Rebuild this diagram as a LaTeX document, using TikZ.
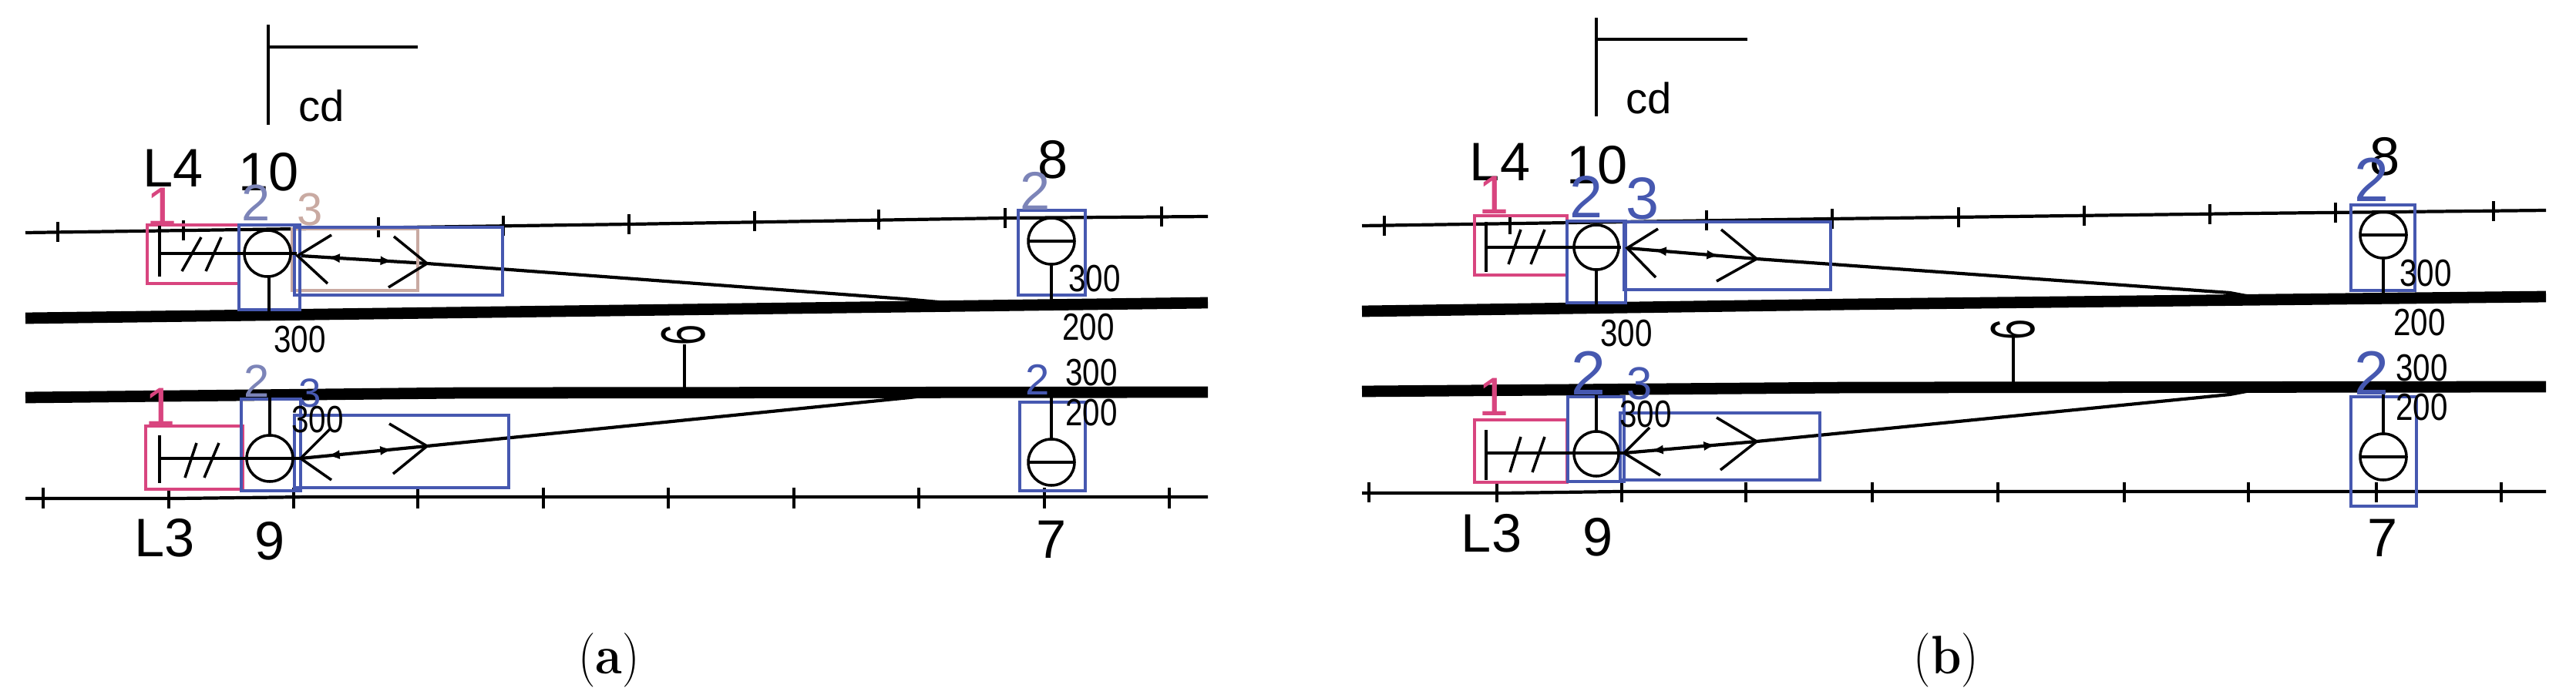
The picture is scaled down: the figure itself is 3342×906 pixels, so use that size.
\documentclass[tikz,border=0pt]{standalone}
\usepackage{fontspec}
\setsansfont{Liberation Sans}
\usepackage{xcolor}
\usepackage{tikz}
\usetikzlibrary{decorations.markings}
\definecolor{boxred}{HTML}{D8457F}
\definecolor{boxblue}{HTML}{4658B0}
\definecolor{boxtan}{HTML}{C9AAA2}
\definecolor{tagmix}{HTML}{7C84B8}
\begin{document}
\begin{tikzpicture}[x=0.01cm,y=-0.01cm,
    rail/.style={line width=1.2pt},
    heavyrail/.style={line width=4.2pt},
    sym/.style={line width=1pt},
    redbox/.style={boxred,line width=0.9pt},
    bluebox/.style={boxblue,line width=0.9pt},
    tag/.style={font=\sffamily\fontsize{20}{20}\selectfont,inner sep=0pt},
    dimtag/.style={font=\sffamily\fontsize{14}{14}\selectfont,inner sep=0pt,xscale=.82},
    sixtag/.style={font=\sffamily\fontsize{23}{23}\selectfont,inner sep=0pt,rotate=90,xscale=.6},
    captag/.style={font=\fontsize{20}{20}\selectfont,inner sep=0pt,xscale=.9},
    branch/.style={rail,postaction={decorate},decoration={markings,
        mark=at position 10pt with {\arrowreversed[scale=.7]{latex}},
        mark=at position 34pt with {\arrow[scale=.7]{latex}}}}]
    \useasboundingbox (0,0) rectangle (3342,906);

    % left drawing
    \draw[sym] (348,32) -- (348,162);
    \draw[sym] (348,61) -- (542,61);
    \draw[rail] (33,302) -- (816,291) -- (1304,283) -- (1567,281);
    \draw[rail] (33,647) -- (230,647) -- (400,645) -- (1567,645);
    \draw[heavyrail] (33,413) -- (1567,393);
    \draw[heavyrail] (33,516) -- (600,510) -- (1567,509);
    \foreach \x/\y in {75/301,238/299,491/295,653/293,816/291,979/287,1140/285,1304/283,1507/281}
        \draw[rail] (\x,\y-13) -- (\x,\y+13);
    \foreach \x in {56,219,381,542,705,867,1030,1192,1355,1517}
        \draw[rail] (\x,633) -- (\x,660);
    \draw[branch] (390,332) -- (554,342) -- (1173,388) -- (1250,395);
    \draw[branch] (390,595) -- (554,579) -- (1180,516) -- (1240,509);
    \draw[boxtan,line width=0.9pt] (379,297) rectangle (542,377);
    \draw[redbox] (191,292) rectangle (310,368);
    \draw[bluebox] (310,292) rectangle (389,402);
    \draw[bluebox] (382,295) rectangle (652,383);
    \draw[redbox] (189,553) rectangle (315,635);
    \draw[bluebox] (313,518) rectangle (390,637);
    \draw[bluebox] (382,539) rectangle (660,633);
    \draw[bluebox] (1321,273) rectangle (1408,383);
    \draw[bluebox] (1323,522) rectangle (1408,637);

    \draw[sym] (207,293) -- (207,359);
    \draw[sym] (207,329) -- (385,329);
    \draw[sym] (236,352) -- (261,308);
    \draw[sym] (267,352) -- (287,308);
    \draw[sym] (347,329) circle (30);
    \draw[sym] (349,358) -- (349,405);
    \draw[sym] (430,305) -- (386,332) -- (425,368);
    \draw[sym] (511,307) -- (554,342) -- (504,373);

    \draw[sym] (207,565) -- (207,627);
    \draw[sym] (207,595) -- (390,595);
    \draw[sym] (240,620) -- (255,575);
    \draw[sym] (265,620) -- (284,575);
    \draw[sym] (350,595) circle (30);
    \draw[sym] (350,516) -- (350,565);
    \draw[sym] (428,557) -- (390,595) -- (430,623);
    \draw[sym] (505,550) -- (554,579) -- (510,615);

    \draw[sym] (1364,313) circle (30);
    \draw[sym] (1334,313) -- (1394,313);
    \draw[sym] (1364,343) -- (1364,400);
    \draw[sym] (1364,600) circle (30);
    \draw[sym] (1334,600) -- (1394,600);
    \draw[sym] (1364,509) -- (1364,570);
    \draw[sym] (888,447) -- (888,505);

    \draw (225,218) node[tag] (lfourA) {L4};
    \draw (349,223) node[tag] (tenA) {10};
    \draw (417,137) node[tag,scale=.8] (cdA) {cd};
    \draw[boxred] (210,268) node[tag] (oneupA) {1};
    \draw[tagmix] (332,263) node[tag,scale=.95] (twoupA) {2};
    \draw[boxtan] (402,272) node[tag,scale=.85] (threeupA) {3};
    \draw (214,698) node[tag] (lthreeA) {L3};
    \draw (350,702) node[tag] (nineA) {9};
    \draw[boxred] (208,528) node[tag] (onedownA) {1};
    \draw[tagmix] (333,495) node[tag,scale=.85] (twodownA) {2};
    \draw[boxblue] (402,510) node[tag,scale=.75] (threedownA) {3};
    \draw (1366,207) node[tag] (eightA) {8};
    \draw[tagmix] (1343,248) node[tag] (twoeightA) {2};
    \draw[boxblue] (1346,493) node[tag,scale=.8] (twosevenA) {2};
    \draw (1364,700) node[tag] (sevenA) {7};
    \draw (389,441) node[dimtag] (dimtopA) {300};
    \draw (412,545) node[dimtag] (dimbotA) {300};
    \draw (1420,362) node[dimtag] (dimaA) {300};
    \draw (1412,425) node[dimtag] (dimbA) {200};
    \draw (1416,484) node[dimtag] (dimcA) {300};
    \draw (1416,536) node[dimtag] (dimdA) {200};
    \draw (887,435) node[sixtag] (sixA) {6};
    \draw (790,857) node[captag] (capA) {(\textbf{a})};

    % right drawing
    \draw[sym] (2071,23) -- (2071,151);
    \draw[sym] (2071,51) -- (2267,51);
    \draw[rail] (1767,293) -- (2377,284) -- (2920,277) -- (3303,273);
    \draw[rail] (1767,640) -- (1950,640) -- (2100,638) -- (3303,638);
    \draw[heavyrail] (1767,404) -- (2400,395) -- (3303,385);
    \draw[heavyrail] (1767,508) -- (2400,503) -- (3303,502);
    \foreach \x/\y in {1796/293,1959/291,2214/286,2377/284,2541/282,2704/280,2867/278,3030/276,3235/274}
        \draw[rail] (\x,\y-13) -- (\x,\y+13);
    \foreach \x in {1776,1942,2104,2265,2429,2592,2756,2917,3083,3245}
        \draw[rail] (\x,626) -- (\x,652);
    \draw[branch] (2111,322) -- (2279,336) -- (2893,380) -- (2935,388);
    \draw[branch] (2107,588) -- (2279,573) -- (2893,512) -- (2930,505);
    \draw[redbox] (1913,280) rectangle (2033,357);
    \draw[bluebox] (2033,287) rectangle (2109,393);
    \draw[bluebox] (2107,288) rectangle (2375,376);
    \draw[redbox] (1913,545) rectangle (2033,626);
    \draw[bluebox] (2034,515) rectangle (2107,625);
    \draw[bluebox] (2102,536) rectangle (2361,623);
    \draw[bluebox] (3050,266) rectangle (3133,377);
    \draw[bluebox] (3050,515) rectangle (3135,657);

    \draw[sym] (1928,288) -- (1928,353);
    \draw[sym] (1928,321) -- (2103,321);
    \draw[sym] (1957,343) -- (1973,298);
    \draw[sym] (1986,343) -- (2004,298);
    \draw[sym] (2071,321) circle (29);
    \draw[sym] (2071,350) -- (2071,395);
    \draw[sym] (2151,297) -- (2111,322) -- (2148,360);
    \draw[sym] (2233,298) -- (2279,336) -- (2227,365);

    \draw[sym] (1928,558) -- (1928,623);
    \draw[sym] (1928,588) -- (2107,588);
    \draw[sym] (1959,613) -- (1973,567);
    \draw[sym] (1988,613) -- (2004,567);
    \draw[sym] (2071,589) circle (29);
    \draw[sym] (2071,510) -- (2071,560);
    \draw[sym] (2140,555) -- (2107,588) -- (2154,617);
    \draw[sym] (2227,542) -- (2279,573) -- (2232,610);

    \draw[sym] (3092,305) circle (30);
    \draw[sym] (3062,305) -- (3122,305);
    \draw[sym] (3092,335) -- (3092,385);
    \draw[sym] (3092,593) circle (30);
    \draw[sym] (3062,593) -- (3122,593);
    \draw[sym] (3092,502) -- (3092,563);
    \draw[sym] (2612,438) -- (2612,497);

    \draw (1946,210) node[tag] (lfourB) {L4};
    \draw (2072,214) node[tag] (tenB) {10};
    \draw (2139,127) node[tag,scale=.8] (cdB) {cd};
    \draw[boxred] (1938,253) node[tag] (oneupB) {1};
    \draw[boxblue] (2058,255) node[tag,scale=1.1] (twoupB) {2};
    \draw[boxblue] (2131,258) node[tag,scale=1.1] (threeupB) {3};
    \draw (1935,692) node[tag] (lthreeB) {L3};
    \draw (2073,697) node[tag] (nineB) {9};
    \draw[boxred] (1938,515) node[tag] (onedownB) {1};
    \draw[boxblue] (2061,484) node[tag,scale=1.15] (twodownB) {2};
    \draw[boxblue] (2127,498) node[tag,scale=.85] (threedownB) {3};
    \draw (3094,203) node[tag] (eightB) {8};
    \draw[boxblue] (3077,233) node[tag,scale=1.15] (twoeightB) {2};
    \draw[boxblue] (3077,484) node[tag,scale=1.15] (twosevenB) {2};
    \draw (3091,698) node[tag] (sevenB) {7};
    \draw (2110,433) node[dimtag] (dimtopB) {300};
    \draw (2135,538) node[dimtag] (dimbotB) {300};
    \draw (3147,355) node[dimtag] (dimaB) {300};
    \draw (3139,419) node[dimtag] (dimbB) {200};
    \draw (3142,478) node[dimtag] (dimcB) {300};
    \draw (3142,529) node[dimtag] (dimdB) {200};
    \draw (2612,428) node[sixtag] (sixB) {6};
    \draw (2525,857) node[captag] (capB) {(\textbf{b})};
\end{tikzpicture}
\end{document}
